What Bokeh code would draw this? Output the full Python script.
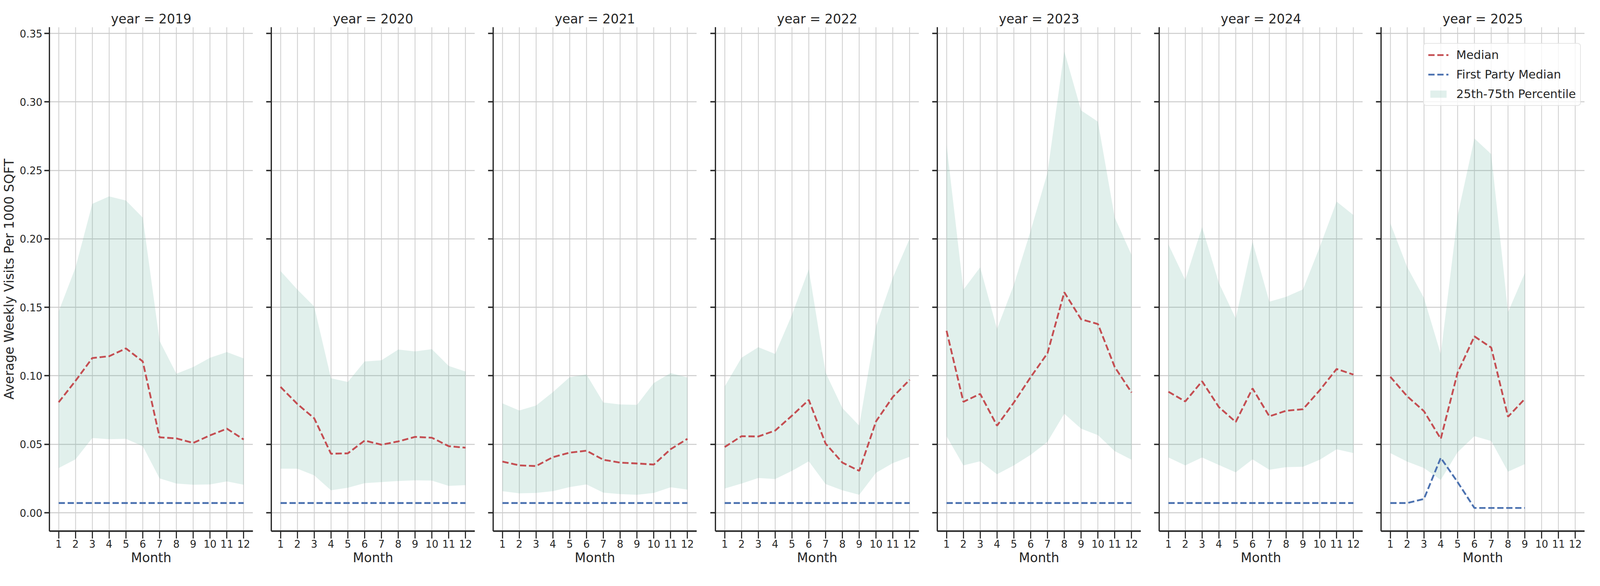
from bokeh.plotting import figure
from bokeh.layouts import row
from bokeh.models import FixedTicker, NumeralTickFormatter, Legend, LegendItem
from bokeh.embed import file_html
from bokeh.resources import INLINE

# ---------------- data ----------------
years = [2019, 2020, 2021, 2022, 2023, 2024, 2025]
months_full = [1, 2, 3, 4, 5, 6, 7, 8, 9, 10, 11, 12]
months_2025 = [1, 2, 3, 4, 5, 6, 7, 8, 9]
y_ticks = [0.0, 0.05, 0.1, 0.15, 0.2, 0.25, 0.3, 0.35]

median_2019 = [0.0807, 0.0963, 0.1130, 0.1143, 0.1200, 0.1105, 0.0551, 0.0543, 0.0510, 0.0565, 0.0614, 0.0535]
p25_2019 = [0.0327, 0.0390, 0.0546, 0.0537, 0.0540, 0.0486, 0.0251, 0.0213, 0.0205, 0.0207, 0.0229, 0.0205]
p75_2019 = [0.1470, 0.1790, 0.2256, 0.2310, 0.2280, 0.2155, 0.1255, 0.1015, 0.1064, 0.1132, 0.1173, 0.1127]
fp_2019 = [0.0071, 0.0071, 0.0071, 0.0071, 0.0071, 0.0071, 0.0071, 0.0071, 0.0071, 0.0071, 0.0071, 0.0071]

median_2020 = [0.0919, 0.0794, 0.0690, 0.0431, 0.0434, 0.0527, 0.0497, 0.0521, 0.0554, 0.0548, 0.0486, 0.0475]
p25_2020 = [0.0322, 0.0322, 0.0273, 0.0164, 0.0183, 0.0216, 0.0224, 0.0232, 0.0237, 0.0235, 0.0196, 0.0202]
p75_2020 = [0.1765, 0.1630, 0.1506, 0.0982, 0.0955, 0.1105, 0.1113, 0.1192, 0.1178, 0.1195, 0.1072, 0.1031]
fp_2020 = [0.0071, 0.0071, 0.0071, 0.0071, 0.0071, 0.0071, 0.0071, 0.0071, 0.0071, 0.0071, 0.0071, 0.0071]

median_2021 = [0.0374, 0.0346, 0.0341, 0.0406, 0.0439, 0.0453, 0.0387, 0.0366, 0.0360, 0.0352, 0.0464, 0.0540]
p25_2021 = [0.0158, 0.0142, 0.0145, 0.0158, 0.0188, 0.0207, 0.0147, 0.0136, 0.0131, 0.0145, 0.0186, 0.0169]
p75_2021 = [0.0799, 0.0747, 0.0783, 0.0881, 0.0990, 0.1010, 0.0805, 0.0791, 0.0788, 0.0947, 0.1020, 0.0988]
fp_2021 = [0.0071, 0.0071, 0.0071, 0.0071, 0.0071, 0.0071, 0.0071, 0.0071, 0.0071, 0.0071, 0.0071, 0.0071]

median_2022 = [0.0480, 0.0559, 0.0557, 0.0600, 0.0709, 0.0824, 0.0505, 0.0366, 0.0306, 0.0668, 0.0846, 0.0971]
p25_2022 = [0.0177, 0.0213, 0.0254, 0.0246, 0.0306, 0.0376, 0.0210, 0.0164, 0.0131, 0.0292, 0.0363, 0.0409]
p75_2022 = [0.0922, 0.1132, 0.1209, 0.1160, 0.1446, 0.1779, 0.1023, 0.0764, 0.0636, 0.1364, 0.1719, 0.2002]
fp_2022 = [0.0071, 0.0071, 0.0071, 0.0071, 0.0071, 0.0071, 0.0071, 0.0071, 0.0071, 0.0071, 0.0071, 0.0071]

median_2023 = [0.1329, 0.0810, 0.0868, 0.0636, 0.0805, 0.0990, 0.1165, 0.1610, 0.1413, 0.1378, 0.1064, 0.0878]
p25_2023 = [0.0559, 0.0346, 0.0376, 0.0281, 0.0346, 0.0423, 0.0518, 0.0723, 0.0614, 0.0567, 0.0450, 0.0387]
p75_2023 = [0.2687, 0.1629, 0.1792, 0.1342, 0.1664, 0.2060, 0.2482, 0.3370, 0.2938, 0.2856, 0.2155, 0.1882]
fp_2023 = [0.0071, 0.0071, 0.0071, 0.0071, 0.0071, 0.0071, 0.0071, 0.0071, 0.0071, 0.0071, 0.0071, 0.0071]

median_2024 = [0.0884, 0.0813, 0.0960, 0.0772, 0.0663, 0.0908, 0.0704, 0.0745, 0.0756, 0.0895, 0.1050, 0.1009]
p25_2024 = [0.0404, 0.0346, 0.0404, 0.0349, 0.0295, 0.0390, 0.0314, 0.0333, 0.0336, 0.0387, 0.0464, 0.0436]
p75_2024 = [0.1959, 0.1700, 0.2087, 0.1678, 0.1419, 0.1978, 0.1541, 0.1577, 0.1631, 0.1942, 0.2272, 0.2174]
fp_2024 = [0.0071, 0.0071, 0.0071, 0.0071, 0.0071, 0.0071, 0.0071, 0.0071, 0.0071, 0.0071, 0.0071, 0.0071]

median_2025 = [0.0993, 0.0851, 0.0742, 0.0540, 0.1023, 0.1288, 0.1206, 0.0701, 0.0832]
p25_2025 = [0.0436, 0.0374, 0.0327, 0.0240, 0.0442, 0.0559, 0.0524, 0.0300, 0.0355]
p75_2025 = [0.2114, 0.1795, 0.1569, 0.1159, 0.2169, 0.2733, 0.2619, 0.1465, 0.1751]
fp_2025 = [0.0071, 0.0071, 0.0101, 0.0401, 0.0224, 0.0035, 0.0035, 0.0035, 0.0035]

panels = [
    (2019, months_full, median_2019, p25_2019, p75_2019, fp_2019),
    (2020, months_full, median_2020, p25_2020, p75_2020, fp_2020),
    (2021, months_full, median_2021, p25_2021, p75_2021, fp_2021),
    (2022, months_full, median_2022, p25_2022, p75_2022, fp_2022),
    (2023, months_full, median_2023, p25_2023, p75_2023, fp_2023),
    (2024, months_full, median_2024, p25_2024, p75_2024, fp_2024),
    (2025, months_2025, median_2025, p25_2025, p75_2025, fp_2025),
]

# ---------------- styling / layout ----------------
FONT = "DejaVu Sans"
INK = "#262626"
RED = "#C44E52"
BLUE = "#4C72B0"
BAND = "#69b3a2"
FRAME_W, FRAME_H = 521, 1290
TOP, BOTTOM, RIGHT, LAST_RIGHT = 69, 120, 15, 25
FIRST_LEFT, STEP = 125, 568.2

figs = []
prev_end = 0
n = len(panels)
for k, (yr, mx, med, lo, hi, fp) in enumerate(panels):
    frame_left = FIRST_LEFT + round(STEP * k)
    bl = frame_left - prev_end
    br = LAST_RIGHT if k == n - 1 else RIGHT
    prev_end = frame_left + FRAME_W + br
    p = figure(frame_width=FRAME_W, frame_height=FRAME_H,
               x_range=(0.45, 12.55), y_range=(-0.0134, 0.3546),
               min_border_left=bl, min_border_right=br,
               min_border_top=TOP, min_border_bottom=BOTTOM,
               output_backend="svg", toolbar_location=None, tools="")
    p.outline_line_color = None
    p.background_fill_color = "white"
    p.border_fill_color = "white"

    p.title.text = f"year = {yr}"
    p.title.align = "center"
    p.title.text_font = FONT
    p.title.text_font_size = "33px"
    p.title.text_font_style = "normal"
    p.title.text_color = INK
    p.title.standoff = 4

    r_band = p.varea(x=mx, y1=lo, y2=hi, fill_color=BAND, fill_alpha=0.2)
    r_med = p.line(mx, med, line_color=RED, line_width=4.6, line_dash="16 7")
    r_fp = p.line(mx, fp, line_color=BLUE, line_width=4.6, line_dash="16 7")

    for ax in (p.xaxis[0], p.yaxis[0]):
        ax.axis_line_color = INK
        ax.major_tick_line_color = INK
        ax.major_tick_in = 0
        ax.minor_tick_line_color = None
        ax.major_label_text_font = FONT
        ax.major_label_text_font_size = "26px"
        ax.major_label_text_color = INK
        ax.axis_label_text_font = FONT
        ax.axis_label_text_font_size = "33px"
        ax.axis_label_text_font_style = "normal"
        ax.axis_label_text_color = INK

    xa = p.xaxis[0]
    xa.ticker = FixedTicker(ticks=months_full)
    xa.axis_line_width = 4
    xa.major_tick_line_width = 2.8
    xa.major_tick_out = 19
    xa.major_label_standoff = 3
    xa.axis_label = "Month"
    xa.axis_label_standoff = 3

    ya = p.yaxis[0]
    ya.ticker = FixedTicker(ticks=y_ticks)
    ya.formatter = NumeralTickFormatter(format="0.00")
    ya.axis_line_width = 3.2
    ya.major_tick_line_width = 3.5
    ya.major_tick_out = 13
    ya.major_label_standoff = 5
    if k == 0:
        ya.axis_label = "Average Weekly Visits Per 1000 SQFT"
        ya.axis_label_standoff = 5
    else:
        ya.major_label_overrides = {t: "" for t in y_ticks}

    p.xgrid.ticker = FixedTicker(ticks=months_full)
    p.ygrid.ticker = FixedTicker(ticks=y_ticks)
    p.xgrid[0].grid_line_color = "#cccccc"
    p.xgrid[0].grid_line_width = 2
    p.ygrid[0].grid_line_color = "#cccccc"
    p.ygrid[0].grid_line_width = 2.3

    if k == n - 1:
        legend = Legend(items=[
            LegendItem(label="Median", renderers=[r_med]),
            LegendItem(label="First Party Median", renderers=[r_fp]),
            LegendItem(label="25th-75th Percentile", renderers=[r_band]),
        ], location=(108, 1088))
        legend.margin = 0
        legend.padding = 11
        legend.spacing = 15
        legend.glyph_width = 52
        legend.glyph_height = 23
        legend.label_standoff = 20
        legend.label_text_font = FONT
        legend.label_text_font_size = "30px"
        legend.label_text_color = INK
        legend.border_line_color = "#cccccc"
        legend.border_line_width = 2.5
        legend.border_radius = 8
        legend.background_fill_color = "white"
        legend.background_fill_alpha = 0.8
        p.add_layout(legend)

    figs.append(p)

layout = row(*figs)
open("out.html", "w").write(file_html(layout, INLINE))
